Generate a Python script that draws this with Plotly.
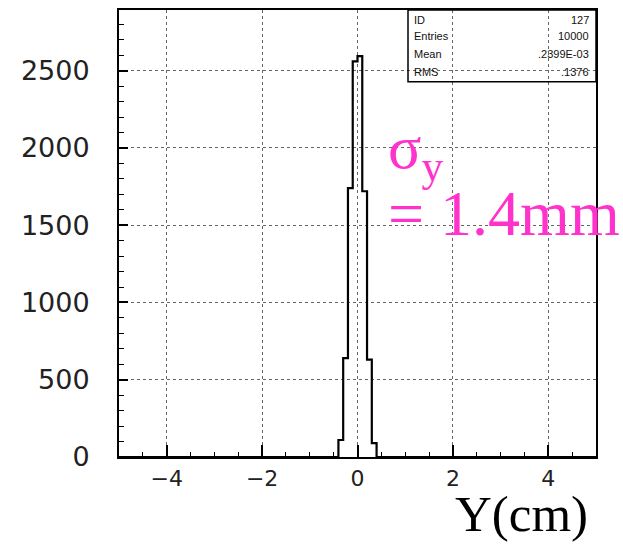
import plotly.graph_objects as go

# ---- data ----
bin_width = 0.1
bin_centers = [-0.35, -0.25, -0.15, -0.05, 0.05, 0.15, 0.25, 0.35]
bin_counts = [110, 640, 1740, 2560, 2595, 1720, 630, 90]

x_ticks = [-4, -2, 0, 2, 4]
x_tick_text = ["\u22124", "\u22122", "0", "2", "4"]
y_ticks = [0, 500, 1000, 1500, 2000, 2500]

stats_labels = ["ID", "Entries", "Mean", "RMS"]
stats_values = ["127", "10000", ".2399E-03", ".1376"]

# ---- build step outline from bins ----
edges = [c - bin_width / 2 for c in bin_centers] + [bin_centers[-1] + bin_width / 2]
step_x = [-5.0, edges[0]]
step_y = [0, 0]
for i, c in enumerate(bin_counts):
    step_x += [edges[i], edges[i + 1]]
    step_y += [c, c]
step_x += [edges[-1], 5.0]
step_y += [0, 0]

fig = go.Figure()
fig.add_trace(go.Scatter(
    x=step_x, y=step_y, mode="lines",
    line=dict(color="black", width=2.2),
    hoverinfo="skip", showlegend=False,
))

W, H = 623, 544
L, R, T, B = 119, 27, 8, 87
pw, ph = W - L - R, H - T - B

def px(X):
    return (X - L) / pw

def py(Y):
    return (H - B - Y) / ph

sans = "DejaVu Sans, Verdana, sans-serif"

fig.update_layout(
    width=W, height=H,
    margin=dict(l=L, r=R, t=T, b=B),
    paper_bgcolor="white", plot_bgcolor="white",
    xaxis=dict(
        range=[-5, 5], tickvals=x_ticks, ticktext=x_tick_text,
        ticks="inside", ticklen=12, tickwidth=1.5, tickcolor="black",
        showline=True, linecolor="black", linewidth=2, mirror=True,
        showgrid=True, gridcolor="#666", griddash="dot", gridwidth=1,
        zeroline=False, tickfont=dict(family=sans, size=22, color="#222"),
        ticklabelstandoff=1,
        minor=dict(dtick=0.5, tick0=0, ticks="inside", ticklen=5, tickwidth=1.2,
                   tickcolor="black", showgrid=False),
    ),
    yaxis=dict(
        range=[0, 2893], tickvals=y_ticks,
        ticks="inside", ticklen=9, tickwidth=1.5, tickcolor="black",
        showline=True, linecolor="black", linewidth=2, mirror=True,
        showgrid=True, gridcolor="#666", griddash="dot", gridwidth=1,
        zeroline=False, tickfont=dict(family=sans, size=27, color="#222"),
        ticklabelstandoff=22,
        minor=dict(dtick=100, tick0=0, ticks="inside", ticklen=5, tickwidth=1.2,
                   tickcolor="black", showgrid=False),
    ),
)

# stats box
fig.add_shape(type="rect", xref="paper", yref="paper",
              x0=px(408), x1=1.0, y0=py(80), y1=1.0,
              line=dict(color="black", width=1.5), fillcolor="rgba(0,0,0,0)")
row_y = [18, 34, 52, 70]
stat_font = dict(family="Liberation Sans, Arial, sans-serif", size=11, color="#111")
for lab, val, yy in zip(stats_labels, stats_values, row_y):
    fig.add_annotation(xref="paper", yref="paper", x=px(412), y=py(yy),
                       text=lab, showarrow=False, xanchor="left", yanchor="middle",
                       font=stat_font)
    fig.add_annotation(xref="paper", yref="paper", x=px(591), y=py(yy),
                       text=val, showarrow=False, xanchor="right", yanchor="middle",
                       font=stat_font)

mag = "#FF33CC"
serif = "Liberation Serif, Times New Roman, serif"
fig.add_annotation(xref="paper", yref="paper", x=px(386), y=py(150),
                   text="\u03c3<sub>y</sub>", showarrow=False, xanchor="left", yanchor="middle",
                   font=dict(family=serif, size=62, color=mag))
fig.add_annotation(xref="paper", yref="paper", x=px(386), y=py(212),
                   text="= 1.4mm", showarrow=False, xanchor="left", yanchor="middle",
                   font=dict(family=serif, size=64, color=mag))
fig.add_annotation(xref="paper", yref="paper", x=px(453), y=py(514),
                   text="Y(cm)", showarrow=False, xanchor="left", yanchor="middle",
                   font=dict(family=serif, size=51, color="black"))

fig.write_html("out.html")
